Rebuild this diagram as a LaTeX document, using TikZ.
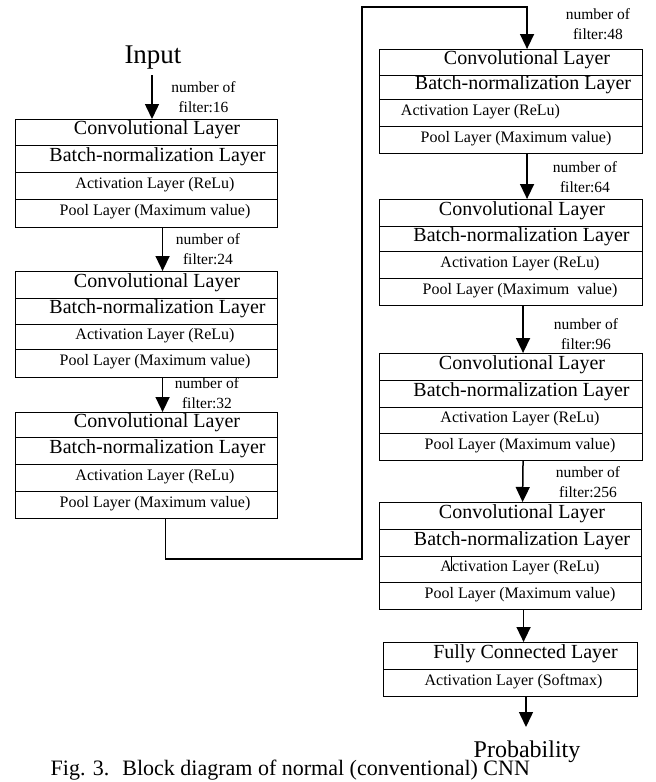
\documentclass[tikz,border=0pt]{standalone}
\usepackage{fontspec}
\setmainfont{Liberation Serif}
\usetikzlibrary{arrows.meta}

\tikzset{
  rowbox/.style={draw, line width=1.1pt, anchor=north west, inner sep=0pt},
  rowtext/.style={inner sep=0pt, text height=0.7em, text depth=0.2em},
  bigrow/.style={font=\fontsize{20pt}{24pt}\selectfont},
  smallrow/.style={font=\fontsize{16pt}{19pt}\selectfont},
  numlbl/.style={inner sep=0pt, align=center, font=\fontsize{15.5pt}{20pt}\selectfont},
  endlbl/.style={inner sep=0pt, anchor=base, font=\fontsize{24pt}{28pt}\selectfont},
  arr/.style={line width=1.5pt, -{Triangle[width=14pt,length=15pt]}},
}

% one layer row: name, x1, y1, x2, y2, text x, style, text
\newcommand\lrow[8]{%
  \node[rowbox, minimum width={#4-#2}, minimum height={#5-#3}] (#1) at (#2,#3) {};
  \node[rowtext, #7] (#1t) at (#6,{(#3+#5)/2}) {#8};
}

\begin{document}
\begin{tikzpicture}[x=1pt, y=-1pt]
\useasboundingbox (0,0) rectangle (656,782);

% left column
\node[endlbl, font=\fontsize{27pt}{30pt}\selectfont] (inp) at (153,63) {Input};

\lrow{b1a}{15}{119}{277}{145}{157}{bigrow}{Convolutional Layer}
\lrow{b1b}{15}{145}{277}{172}{157.5}{bigrow}{Batch-normalization Layer}
\lrow{b1c}{15}{172}{277}{199}{155}{smallrow}{Activation Layer (ReLu)}
\lrow{b1d}{15}{199}{277}{227}{155}{smallrow}{Pool Layer (Maximum value)}

\lrow{b2a}{15}{271}{277}{298}{157}{bigrow}{Convolutional Layer}
\lrow{b2b}{15}{298}{277}{324}{157.5}{bigrow}{Batch-normalization Layer}
\lrow{b2c}{15}{324}{277}{349}{155}{smallrow}{Activation Layer (ReLu)}
\lrow{b2d}{15}{349}{277}{377}{155}{smallrow}{Pool Layer (Maximum value)}

\lrow{b3a}{15}{412}{277}{437}{157}{bigrow}{Convolutional Layer}
\lrow{b3b}{15}{437}{277}{464}{157.5}{bigrow}{Batch-normalization Layer}
\lrow{b3c}{15}{464}{277}{491}{155}{smallrow}{Activation Layer (ReLu)}
\lrow{b3d}{15}{491}{277}{518}{155}{smallrow}{Pool Layer (Maximum value)}

% right column
\lrow{b4a}{379}{49}{642}{75}{527}{bigrow}{Convolutional Layer}
\lrow{b4b}{379}{75}{642}{99}{523}{bigrow}{Batch-normalization Layer}
\lrow{b4c}{379}{99}{642}{126}{480.5}{smallrow}{Activation Layer (ReLu)}
\lrow{b4d}{379}{126}{642}{153}{516}{smallrow}{Pool Layer (Maximum value)}

\lrow{b5a}{379}{199}{642}{226}{522}{bigrow}{Convolutional Layer}
\lrow{b5b}{379}{226}{642}{251}{521.5}{bigrow}{Batch-normalization Layer}
\lrow{b5c}{379}{251}{642}{278}{520}{smallrow}{Activation Layer (ReLu)}
\lrow{b5d}{379}{278}{642}{305}{520}{smallrow}{Pool Layer (Maximum\ \ value)}

\lrow{b6a}{379}{353}{642}{380}{522}{bigrow}{Convolutional Layer}
\lrow{b6b}{379}{380}{642}{407}{521.5}{bigrow}{Batch-normalization Layer}
\lrow{b6c}{379}{407}{642}{433}{520}{smallrow}{Activation Layer (ReLu)}
\lrow{b6d}{379}{433}{642}{460}{520}{smallrow}{Pool Layer (Maximum value)}

\lrow{b7a}{379}{502}{641}{529}{522}{bigrow}{Convolutional Layer}
\lrow{b7b}{379}{529}{641}{556}{522}{bigrow}{Batch-normalization Layer}
\lrow{b7c}{379}{556}{641}{582}{520}{smallrow}{Activation Layer (ReLu)}
\lrow{b7d}{379}{582}{641}{609}{520}{smallrow}{Pool Layer (Maximum value)}

\lrow{b8a}{383}{642}{637}{669}{525.5}{bigrow}{Fully Connected Layer}
\lrow{b8b}{383}{669}{637}{696}{513.5}{smallrow}{Activation Layer (Softmax)}

\node[endlbl] (prob) at (527,757) {Probability};

% filter counts beside the arrows
\node[numlbl] (n1) at (203.5,97) {number of\\filter:16};
\node[numlbl] (n2) at (208,249) {number of\\filter:24};
\node[numlbl] (n3) at (207,393.5) {number of\\filter:32};
\node[numlbl] (n4) at (598,24) {number of\\filter:48};
\node[numlbl] (n5) at (585,177) {number of\\filter:64};
\node[numlbl] (n6) at (586,334) {number of\\filter:96};
\node[numlbl] (n7) at (588,482.5) {number of\\filter:256};

% connectors
\coordinate (a0) at (152,75);
\draw[arr] (a0) -- (a0 |- b1a.north);
\draw[arr] ([xshift=16pt]b1d.south) -- ([xshift=16pt]b2a.north);
\draw[arr] ([xshift=16pt]b2d.south) -- ([xshift=16pt]b3a.north);

\coordinate (c1) at (362,559);
\coordinate (c2) at (362,7);
\draw[arr] ([xshift=19pt]b3d.south) |- (c1) -- (c2) -| ([xshift=16pt]b4a.north);

\draw[arr] ([xshift=16pt]b4d.south) -- ([xshift=16pt]b5a.north);
\draw[arr] ([xshift=12pt]b5d.south) -- ([xshift=12pt]b6a.north);
\draw[arr] ([xshift=12pt]b6d.south) -- ([xshift=12pt]b7a.north);
\draw[arr] ([xshift=13pt]b7d.south) -- ([xshift=13pt]b8a.north);
\coordinate (pe) at (526,727);
\draw[arr] (b8b.south -| pe) -- (pe);

% small stroke through the last activation row
\coordinate (k1) at (451,556);
\coordinate (k2) at (451,571);
\draw[line width=0.6pt] (k1) -- (k2);

% caption
\node[inner sep=0pt, anchor=base west, font=\fontsize{22pt}{25pt}\selectfont] (cap) at (50.5,775.5)
  {Fig. 3.\hspace{13pt}Block diagram of normal (conventional) CNN};
\end{tikzpicture}
\end{document}
